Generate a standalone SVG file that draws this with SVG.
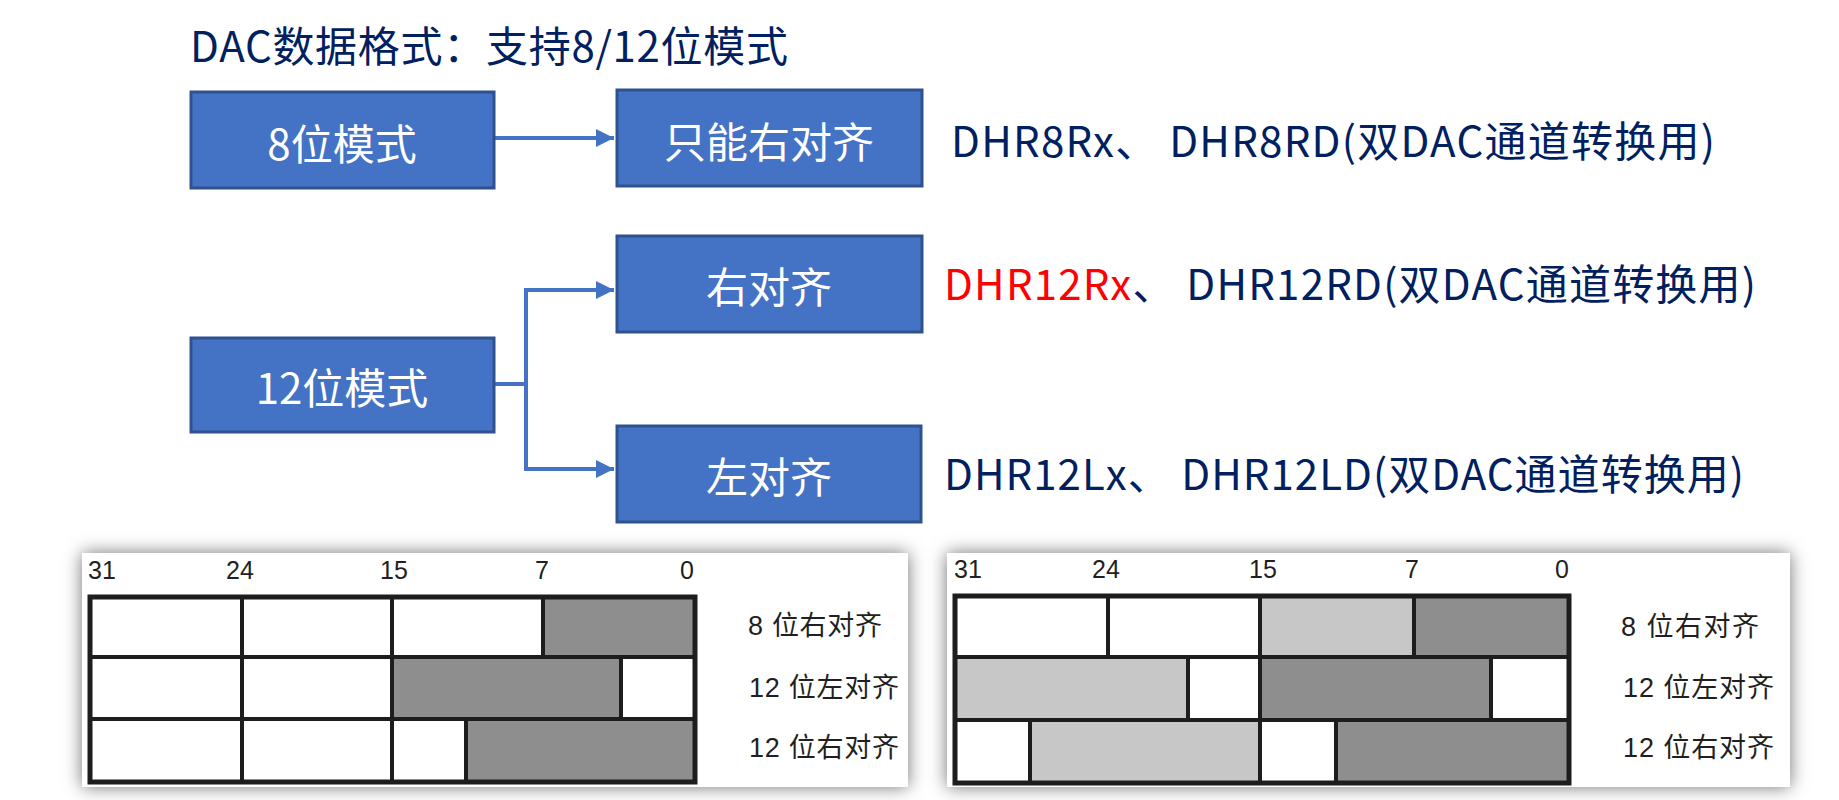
<svg xmlns="http://www.w3.org/2000/svg" width="1839" height="800" viewBox="0 0 1839 800">
<style>
.box{fill:#4472C4;stroke:#2F528F;stroke-width:3}
.bt{font-family:"Microsoft YaHei","Noto Sans CJK SC",sans-serif;font-size:42px;fill:#FFFFFF;text-anchor:middle;dominant-baseline:central}
.nv{font-family:"Microsoft YaHei","Noto Sans CJK SC",sans-serif;font-size:42px;fill:#002060}
.conn{fill:none;stroke:#4472C4;stroke-width:4}
.frame{fill:#FFFFFF}
.w{fill:#FFFFFF}
.dg{fill:#8F8E8F}
.lg{fill:#C7C7C7}
.ln{stroke:#1E1C1D;stroke-width:4;fill:none}
.ol{stroke:#1E1C1D;stroke-width:5;fill:none}
.num{font-family:"Liberation Sans","Noto Sans CJK SC",sans-serif;font-size:25px;fill:#231F20}
.lab{font-family:"Liberation Sans","Noto Sans CJK SC",sans-serif;font-size:27px;fill:#231F20;dominant-baseline:central}
</style>
<defs>
<marker id="arr" viewBox="0 0 10 10" refX="10" refY="5" markerWidth="4.5" markerHeight="4.5" markerUnits="strokeWidth" orient="auto">
<path d="M0,0 L10,5 L0,10 Z" fill="#4472C4"/>
</marker>
<filter id="sh" x="-10%" y="-30%" width="120%" height="160%">
<feDropShadow dx="0" dy="0" stdDeviation="9" flood-color="#000000" flood-opacity="0.55"/>
</filter>
</defs>
<rect width="1839" height="800" fill="#FFFFFF"/>

<g id="title">
<text class="nv" x="190" y="62" font-size="40" textLength="598">DAC数据格式：支持8/12位模式</text>
</g>

<g id="connectors">
<path class="conn" d="M494,138 L614,138" marker-end="url(#arr)"/>
<path class="conn" d="M494,384 L526,384 M526,290 L526,469"/>
<path class="conn" d="M524,290 L614,290" marker-end="url(#arr)"/>
<path class="conn" d="M524,469 L614,469" marker-end="url(#arr)"/>
</g>

<g id="node-8bit">
<rect class="box" x="191" y="92" width="303" height="96"/>
<text class="bt" x="342" y="141">8位模式</text>
</g>
<g id="node-8bit-right">
<rect class="box" x="617" y="90" width="305" height="96"/>
<text class="bt" x="769" y="139">只能右对齐</text>
</g>
<g id="node-12bit">
<rect class="box" x="191" y="338" width="303" height="94"/>
<text class="bt" x="342" y="385">12位模式</text>
</g>
<g id="node-12bit-right">
<rect class="box" x="617" y="236" width="305" height="96"/>
<text class="bt" x="769" y="284">右对齐</text>
</g>
<g id="node-12bit-left">
<rect class="box" x="617" y="426" width="304" height="96"/>
<text class="bt" x="769" y="474">左对齐</text>
</g>

<g id="label-8">
<text class="nv" x="951" y="157" textLength="764">DHR8Rx、 DHR8RD(双DAC通道转换用)</text>
</g>
<g id="label-12r">
<text class="nv" x="944" y="300" textLength="812"><tspan fill="#FF0000">DHR12Rx</tspan>、 DHR12RD(双DAC通道转换用)</text>
</g>
<g id="label-12l">
<text class="nv" x="944" y="490" textLength="800">DHR12Lx、 DHR12LD(双DAC通道转换用)</text>
</g>

<g id="fig-left">
<rect class="frame" x="82" y="553" width="826" height="234" filter="url(#sh)"/>
<text class="num" x="88" y="579">31</text>
<text class="num" x="226" y="579">24</text>
<text class="num" x="380" y="579">15</text>
<text class="num" x="535" y="579">7</text>
<text class="num" x="680" y="579">0</text>
<rect class="dg" x="543" y="597" width="152" height="60"/>
<rect class="dg" x="392" y="657" width="229" height="62"/>
<rect class="dg" x="466" y="719" width="229" height="63"/>
<rect class="ol" x="90" y="597" width="605" height="185"/>
<path class="ln" d="M90,657 H695 M90,719 H695 M242,597 V657 M392,597 V657 M543,597 V657 M242,657 V719 M392,657 V719 M621,657 V719 M242,719 V782 M392,719 V782 M466,719 V782"/>
<text class="lab" x="748" y="626" textLength="134">8 位右对齐</text>
<text class="lab" x="749" y="688" textLength="150">12 位左对齐</text>
<text class="lab" x="749" y="748" textLength="150">12 位右对齐</text>
</g>

<g id="fig-right">
<rect class="frame" x="947" y="553" width="843" height="234" filter="url(#sh)"/>
<text class="num" x="954" y="578">31</text>
<text class="num" x="1092" y="578">24</text>
<text class="num" x="1249" y="578">15</text>
<text class="num" x="1405" y="578">7</text>
<text class="num" x="1555" y="578">0</text>
<rect class="lg" x="1260" y="596" width="154" height="61"/>
<rect class="dg" x="1414" y="596" width="155" height="61"/>
<rect class="lg" x="955" y="657" width="233" height="63"/>
<rect class="dg" x="1260" y="657" width="231" height="63"/>
<rect class="lg" x="1030" y="720" width="230" height="63"/>
<rect class="dg" x="1336" y="720" width="233" height="63"/>
<rect class="ol" x="955" y="596" width="614" height="187"/>
<path class="ln" d="M955,657 H1569 M955,720 H1569 M1108,596 V657 M1260,596 V657 M1414,596 V657 M1188,657 V720 M1260,657 V720 M1491,657 V720 M1030,720 V783 M1260,720 V783 M1336,720 V783"/>
<text class="lab" x="1621" y="627" textLength="138">8 位右对齐</text>
<text class="lab" x="1623" y="688" textLength="151">12 位左对齐</text>
<text class="lab" x="1623" y="748" textLength="151">12 位右对齐</text>
</g>
</svg>
